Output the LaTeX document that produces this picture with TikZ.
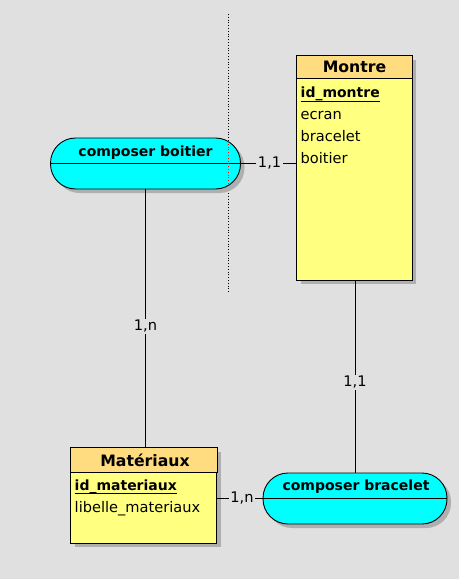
\documentclass[tikz,border=0pt]{standalone}
\usepackage{fontspec}
\setmainfont{DejaVu Sans}
\usetikzlibrary{calc,shadows}
\definecolor{bg}{RGB}{224,224,224}
\definecolor{hdr}{RGB}{255,220,128}
\definecolor{entbody}{RGB}{255,255,128}
\definecolor{assoc}{RGB}{0,255,255}
\definecolor{shade}{RGB}{175,175,175}
\tikzset{
  myshadow/.style={drop shadow={shadow xshift=4pt,shadow yshift=-4pt,fill=shade,opacity=1}},
  entity/.style={draw=black, fill=entbody, line width=0.9pt, inner sep=0pt, myshadow},
  assocbox/.style={draw=black, fill=assoc, line width=0.9pt, inner sep=0pt, rounded corners=25pt, myshadow},
  titletext/.style={font=\bfseries\fontsize{15.7pt}{18pt}\selectfont, anchor=base, inner sep=0pt},
  keytext/.style={font=\bfseries\fontsize{14pt}{17pt}\selectfont, anchor=base west, inner sep=0pt},
  attrtext/.style={font=\fontsize{14.6pt}{17pt}\selectfont, anchor=base west, inner sep=0pt},
  assoctext/.style={font=\bfseries\fontsize{14pt}{17pt}\selectfont, anchor=base, inner sep=0pt},
  card/.style={font=\fontsize{14.6pt}{17pt}\selectfont, fill=bg, inner sep=1.5pt},
  link/.style={line width=0.9pt, draw=black},
}
\begin{document}
\begin{tikzpicture}[x=1pt,y=-1pt]
\fill[bg] (0,0) rectangle (459,579);
\useasboundingbox (0,0) rectangle (459,579);

% dotted guide line
\draw[dotted, line width=0.8pt] (228,14) -- (228,293);

% Montre entity
\node[entity, minimum width=115.5pt, minimum height=224.5pt] (montre) at (354.25,167.75) {};
\draw[line width=0.9pt, fill=hdr] (montre.north west) rectangle ($(montre.north east)+(0,23.5)$);
\node[titletext] (montreT) at (354.5,72.7) {Montre};
\node[keytext] (idm) at (300.5,97) {id\_montre};
\draw[line width=0.9pt] ($(idm.base west)+(0,4)$) -- ($(idm.base east)+(0,4)$);
\node[attrtext] (ecran) at (300.5,119) {ecran};
\node[attrtext] (bracelet) at (300.5,141) {bracelet};
\node[attrtext] (boitier) at (300.5,163) {boitier};

% Materiaux entity
\node[entity, minimum width=146pt, minimum height=95pt] (mat) at (143.5,495.5) {};
\draw[line width=0.9pt, fill=hdr] (mat.north west) rectangle ($(mat.north east)+(0,25)$);
\node[titletext] (matT) at (145,466) {Matériaux};
\node[keytext] (idmat) at (74.5,490) {id\_materiaux};
\draw[line width=0.9pt] ($(idmat.base west)+(0,3.5)$) -- ($(idmat.base east)+(0,3.5)$);
\node[attrtext] (lib) at (74.5,512.5) {libelle\_materiaux};

% composer boitier
\node[assocbox, minimum width=190pt, minimum height=51pt] (cbo) at (145.5,163.5) {};
\draw[line width=0.9pt] (cbo.west) -- (cbo.east);
\node[assoctext] (cboT) at (145.5,156) {composer boitier};
\draw[dotted, line width=0.8pt, red] (228,141) -- (228,185);

% composer bracelet
\node[assocbox, minimum width=184pt, minimum height=51pt] (cbr) at (355,498.5) {};
\draw[line width=0.9pt] (cbr.west) -- (cbr.east);
\node[assoctext] (cbrT) at (356,490) {composer bracelet};

% links
\draw[link] (cbo.east) -- node[card, pos=0.52] {1,1} (cbo.east -| montre.west);
\draw[link] (cbo.south) -- node[card, pos=0.53] {1,n} (cbo.south |- mat.north);
\draw[link] (cbr.north |- montre.south) -- node[card, pos=0.53] {1,1} (cbr.north);
\draw[link] (cbr.west -| mat.east) -- node[card, pos=0.55] {1,n} (cbr.west);
\end{tikzpicture}
\end{document}
